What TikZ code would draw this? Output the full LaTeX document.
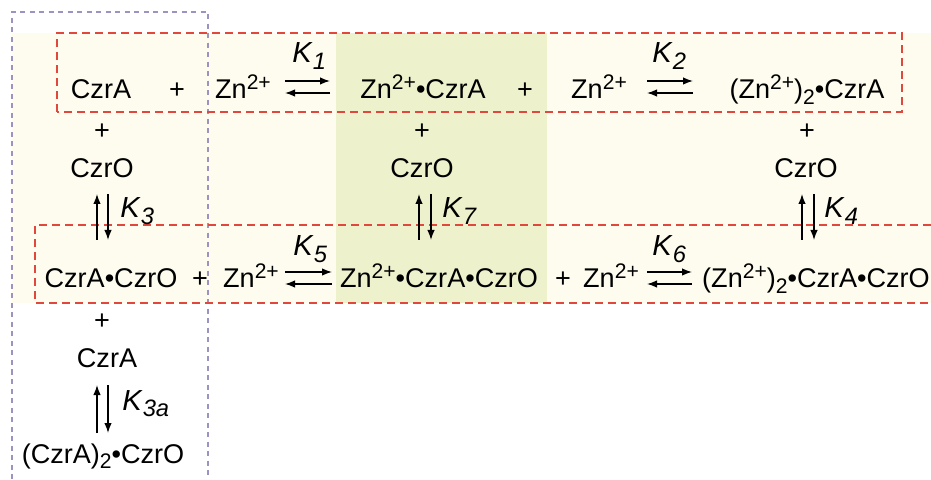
\documentclass[tikz,border=0pt]{standalone}
\usepackage{fontspec}
\setmainfont{Liberation Sans}
\usetikzlibrary{arrows.meta, positioning}
\definecolor{czcream}{HTML}{FDFCEE}
\definecolor{czgreen}{HTML}{EEF2CC}
\definecolor{czred}{HTML}{E0473D}
\definecolor{czlilac}{HTML}{9D93C2}
\newcommand{\chemsize}{\fontsize{15.4}{18}\selectfont}
\newcommand{\supsc}[1]{\raisebox{0.36em}{\fontsize{12}{14}\selectfont #1}}
\newcommand{\subsc}[1]{\raisebox{-0.22em}{\fontsize{12}{14}\selectfont #1}}
\newcommand{\zincion}{Zn\supsc{2+}}
\newcommand{\kconst}[1]{\textit{K}\raisebox{-0.24em}{\fontsize{13.5}{15}\selectfont\textit{#1}}}

\begin{document}
\begin{tikzpicture}[
  chem/.style={anchor=base, inner sep=0pt, font=\chemsize},
  kbox/.style={anchor=base west, inner sep=0pt, font=\fontsize{16.5}{19}\selectfont},
  fwd/.style={-{Latex[length=2mm,width=1.5mm]}, line width=0.8pt},
  redbox/.style={draw=czred, line width=1.1pt, dash pattern=on 0.16cm off 0.10cm},
  lilacbox/.style={draw=czlilac, line width=0.75pt, dash pattern=on 0.10cm off 0.09cm},
]
\useasboundingbox (0,0) rectangle (18.62,9.58);

% Backgrounds
\fill[czcream] (0.24,3.52) rectangle (18.62,8.92);
\fill[czgreen] (6.72,3.52) rectangle (10.94,8.92);

% Dashed frames
\draw[lilacbox] (0.24,0) -- (0.24,9.34) -- (4.16,9.34) -- (4.16,0);
\draw[redbox] (1.14,7.34) rectangle (18.04,8.92);
\draw[redbox] (18.62,5.08) -- (0.70,5.08) -- (0.70,3.52) -- (18.62,3.52);

% Top row
\node[chem] (czra) at (2.02,7.60) {CzrA};
\node[chem] (plusa) at (3.54,7.60) {+};
\node[chem] (zna) at (4.86,7.60) {\zincion};
\node[chem] (znczra) at (8.46,7.60) {\zincion•CzrA};
\node[chem] (plusb) at (10.50,7.60) {+};
\node[chem] (znb) at (11.98,7.60) {\zincion};
\node[chem] (znznczra) at (16.14,7.60) {(\zincion)\subsc{2}•CzrA};

\node[kbox] (k1) at (5.84,8.32) {\kconst{1}};
\node[kbox] (k2) at (13.04,8.32) {\kconst{2}};

\coordinate (e1l) at (5.70,7.84);
\coordinate (e1r) at (6.60,7.84);
\coordinate (e2l) at (12.94,7.84);
\coordinate (e2r) at (13.86,7.84);
\draw[fwd] ([yshift=0.12cm]e1l) -- ([yshift=0.12cm]e1r);
\draw[fwd] ([yshift=-0.12cm]e1r) -- ([yshift=-0.12cm]e1l);
\draw[fwd] ([yshift=0.12cm]e2l) -- ([yshift=0.12cm]e2r);
\draw[fwd] ([yshift=-0.12cm]e2r) -- ([yshift=-0.12cm]e2l);

% CzrO column entries
\node[chem] (plusc) at (2.04,6.78) {+};
\node[chem] (plusd) at (8.44,6.78) {+};
\node[chem] (pluse) at (16.14,6.78) {+};
\node[chem] (czroa) at (2.04,6.02) {CzrO};
\node[chem] (czrob) at (8.44,6.02) {CzrO};
\node[chem] (czroc) at (16.12,6.02) {CzrO};

\coordinate (v3t) at (2.05,5.70);
\coordinate (v3b) at (2.05,4.78);
\coordinate (v7t) at (8.50,5.70);
\coordinate (v7b) at (8.50,4.78);
\coordinate (v4t) at (16.16,5.70);
\coordinate (v4b) at (16.16,4.78);
\draw[fwd] ([xshift=-0.11cm]v3b) -- ([xshift=-0.11cm]v3t);
\draw[fwd] ([xshift=0.11cm]v3t) -- ([xshift=0.11cm]v3b);
\draw[fwd] ([xshift=-0.12cm]v7b) -- ([xshift=-0.12cm]v7t);
\draw[fwd] ([xshift=0.12cm]v7t) -- ([xshift=0.12cm]v7b);
\draw[fwd] ([xshift=-0.12cm]v4b) -- ([xshift=-0.12cm]v4t);
\draw[fwd] ([xshift=0.12cm]v4t) -- ([xshift=0.12cm]v4b);

\node[kbox] (k3) at (2.40,5.22) {\kconst{3}};
\node[kbox] (k7) at (8.84,5.22) {\kconst{7}};
\node[kbox] (k4) at (16.48,5.22) {\kconst{4}};

% Bottom row
\node[chem] (czraczro) at (2.22,3.82) {CzrA•CzrO};
\node[chem] (plusf) at (4.00,3.82) {+};
\node[chem] (znc) at (5.02,3.82) {\zincion};
\node[chem] (znczraczro) at (8.78,3.82) {\zincion•CzrA•CzrO};
\node[chem] (plusg) at (11.26,3.82) {+};
\node[chem] (znd) at (12.22,3.82) {\zincion};
\node[chem] (znznczraczro) at (16.32,3.82) {(\zincion)\subsc{2}•CzrA•CzrO};

\node[kbox] (k5) at (5.86,4.46) {\kconst{5}};
\node[kbox] (k6) at (13.04,4.46) {\kconst{6}};

\coordinate (e5l) at (5.70,4.02);
\coordinate (e5r) at (6.64,4.02);
\coordinate (e6l) at (12.94,4.02);
\coordinate (e6r) at (13.84,4.02);
\draw[fwd] ([yshift=0.12cm]e5l) -- ([yshift=0.12cm]e5r);
\draw[fwd] ([yshift=-0.12cm]e5r) -- ([yshift=-0.12cm]e5l);
\draw[fwd] ([yshift=0.12cm]e6l) -- ([yshift=0.12cm]e6r);
\draw[fwd] ([yshift=-0.12cm]e6r) -- ([yshift=-0.12cm]e6l);

% Dimer branch
\node[chem] (plush) at (2.04,3.00) {+};
\node[chem] (czrab) at (2.14,2.24) {CzrA};
\node[chem] (dimer) at (2.06,0.32) {(CzrA)\subsc{2}•CzrO};

\coordinate (v3at) at (2.05,1.88);
\coordinate (v3ab) at (2.05,0.92);
\draw[fwd] ([xshift=-0.11cm]v3ab) -- ([xshift=-0.11cm]v3at);
\draw[fwd] ([xshift=0.11cm]v3at) -- ([xshift=0.11cm]v3ab);
\node[kbox] (k3a) at (2.44,1.38) {\kconst{3a}};

\end{tikzpicture}
\end{document}
